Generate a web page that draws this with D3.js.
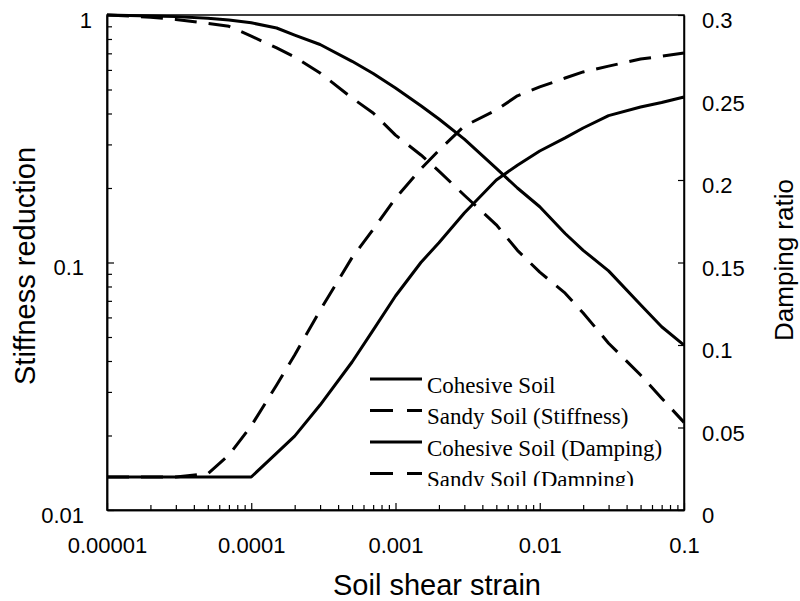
<!DOCTYPE html>
<html>
<head>
<meta charset="utf-8">
<script src="https://cdn.jsdelivr.net/npm/d3@7"></script>
<style>
  body { margin: 0; background: #fff; }
  svg { display: block; }
</style>
</head>
<body>
<div id="chart"></div>
<script>
// soil shear strain sample points
const strain = [1e-5, 2e-5, 3e-5, 5e-5, 7e-5, 1e-4, 1.5e-4, 2e-4, 3e-4, 5e-4, 7e-4,
  1e-3, 1.5e-3, 2e-3, 3e-3, 5e-3, 7e-3, 1e-2, 1.5e-2, 2e-2, 3e-2, 5e-2, 7e-2, 1e-1];

// stiffness reduction (left axis, log)
const cohesiveStiffness = [1.0, 0.99, 0.985, 0.97, 0.955, 0.93, 0.886, 0.83, 0.76, 0.65, 0.58,
  0.507, 0.43, 0.38, 0.315, 0.24, 0.2, 0.168, 0.131, 0.112, 0.0925, 0.0675, 0.055, 0.0464];
const sandyStiffness = [1.0, 0.98, 0.96, 0.924, 0.9, 0.822, 0.736, 0.677, 0.583, 0.462, 0.402,
  0.327, 0.272, 0.234, 0.187, 0.142, 0.112, 0.0914, 0.0752, 0.0625, 0.0472, 0.0351, 0.0283, 0.0226];

// damping ratio (right axis, linear)
const cohesiveDamping = [0.02, 0.02, 0.02, 0.02, 0.02, 0.02, 0.0345, 0.0448, 0.0636, 0.0897, 0.109,
  0.1297, 0.15, 0.162, 0.18, 0.2, 0.209, 0.2176, 0.2255, 0.2315, 0.239, 0.2442, 0.247, 0.2503];
const sandyDamping = [0.02, 0.02, 0.02, 0.022, 0.0333, 0.051, 0.0758, 0.094, 0.121, 0.153, 0.17,
  0.189, 0.2067, 0.218, 0.2327, 0.2424, 0.251, 0.2564, 0.2618, 0.2655, 0.269, 0.2733, 0.275, 0.277];

const xTicks = [1e-5, 1e-4, 1e-3, 1e-2, 1e-1];
const xTickLabels = ['0.00001', '0.0001', '0.001', '0.01', '0.1'];
const yLeftTicks = [0.01, 0.1, 1];
const yLeftTickLabels = ['0.01', '0.1', '1'];
const yRightTicks = [0, 0.05, 0.1, 0.15, 0.2, 0.25, 0.3];
const yRightTickLabels = ['0', '0.05', '0.1', '0.15', '0.2', '0.25', '0.3'];

const legendLabels = ['Cohesive Soil', 'Sandy Soil (Stiffness)', 'Cohesive Soil (Damping)', 'Sandy Soil (Damping)'];

const widthSvg = 800;
const heightSvg = 601;
const margin = { top: 15, right: 116, bottom: 91, left: 107 };
const widthChart = widthSvg - margin.left - margin.right;
const heightChart = heightSvg - margin.top - margin.bottom;

const sans = 'Liberation Sans, Arial, Helvetica, sans-serif';
const serif = 'Liberation Serif, Times New Roman, serif';

const svg = d3.select('#chart').append('svg')
  .attr('width', widthSvg)
  .attr('height', heightSvg);

const g = svg.append('g')
  .attr('transform', `translate(${margin.left}, ${margin.top})`);

const scaleX = d3.scaleLog().domain([1e-5, 0.1]).range([0, widthChart]);
const scaleYL = d3.scaleLog().domain([0.01, 1]).range([heightChart, 0]);
const scaleYR = d3.scaleLinear().domain([0, 0.3]).range([heightChart, 0]);

// minor ticks: 2..9 in each decade
const minorOf = (scale) => scale.ticks().filter(v => {
  const m = v / Math.pow(10, Math.floor(Math.log10(v) + 1e-9));
  return Math.abs(m - 1) > 1e-6;
});

// x axis
g.append('g')
  .attr('transform', `translate(0, ${heightChart})`)
  .call(d3.axisBottom(scaleX).tickValues(minorOf(scaleX)).tickSize(-5).tickSizeOuter(0).tickFormat(''))
  .call(a => a.selectAll('text').remove());
g.append('g')
  .attr('transform', `translate(0, ${heightChart})`)
  .call(d3.axisBottom(scaleX).tickValues(xTicks).tickSize(-7).tickSizeOuter(0).tickPadding(27)
    .tickFormat((d, i) => xTickLabels[i]));

// left axis
g.append('g')
  .call(d3.axisLeft(scaleYL).tickValues(minorOf(scaleYL)).tickSize(-5).tickSizeOuter(0).tickFormat(''))
  .call(a => a.selectAll('text').remove());
g.append('g')
  .call(d3.axisLeft(scaleYL).tickValues(yLeftTicks).tickSize(-7).tickSizeOuter(0).tickPadding(23)
    .tickFormat((d, i) => yLeftTickLabels[i]))
  .call(a => a.selectAll('text').attr('dy', '0.56em'))
  .call(a => a.selectAll('text').filter(d => d === 1).attr('dx', 8));

// right axis
g.append('g')
  .attr('transform', `translate(${widthChart}, 0)`)
  .call(d3.axisRight(scaleYR).tickValues(yRightTicks).tickSize(-6).tickSizeOuter(0).tickPadding(18)
    .tickFormat((d, i) => yRightTickLabels[i]))
  .call(a => a.selectAll('text').attr('dy', '0.58em'));

g.selectAll('.domain').attr('stroke', '#000').attr('stroke-width', 1.5);
g.selectAll('.tick line').attr('stroke', '#000').attr('stroke-width', 1.2);
g.selectAll('.tick text')
  .attr('fill', '#000')
  .style('font-family', sans)
  .style('font-size', '22px');

// frame
g.append('rect')
  .attr('width', widthChart)
  .attr('height', heightChart)
  .attr('fill', 'none')
  .attr('stroke', '#000')
  .attr('stroke-width', 1.5);

// curves
const stiffLine = d3.line()
  .x((d, i) => scaleX(strain[i]))
  .y(d => scaleYL(d));
const dampLine = d3.line()
  .x((d, i) => scaleX(strain[i]))
  .y(d => scaleYR(d));

const series = [
  { values: cohesiveStiffness, line: stiffLine, dash: null },
  { values: sandyStiffness, line: stiffLine, dash: '22,12' },
  { values: cohesiveDamping, line: dampLine, dash: null },
  { values: sandyDamping, line: dampLine, dash: '22,12' }
];

g.selectAll('.curve')
  .data(series)
  .enter()
  .append('path')
  .attr('class', 'curve')
  .attr('d', d => d.line(d.values))
  .attr('fill', 'none')
  .attr('stroke', '#000')
  .attr('stroke-width', 3)
  .attr('stroke-linejoin', 'round')
  .attr('stroke-dasharray', d => d.dash);

// legend (bottom row is clipped in the original)
svg.append('clipPath')
  .attr('id', 'legend-clip')
  .append('rect')
  .attr('x', 360).attr('y', 360).attr('width', 320).attr('height', 126);

const legend = svg.append('g').attr('clip-path', 'url(#legend-clip)');
const legendRows = legend.selectAll('g')
  .data(legendLabels)
  .enter()
  .append('g')
  .attr('transform', (d, i) => `translate(370, ${379 + i * 31.5})`);

legendRows.append('line')
  .attr('x1', 0).attr('x2', 52)
  .attr('stroke', '#000')
  .attr('stroke-width', 3)
  .attr('stroke-dasharray', (d, i) => series[i].dash ? '23,14' : null);

legendRows.append('text')
  .attr('x', 57)
  .attr('y', 13.5)
  .style('font-family', serif)
  .style('font-size', '23px')
  .text(d => d);

// axis titles
svg.append('text')
  .attr('x', 437)
  .attr('y', 595)
  .attr('text-anchor', 'middle')
  .style('font-family', sans)
  .style('font-size', '29px')
  .text('Soil shear strain');

svg.append('text')
  .attr('transform', 'translate(35, 266) rotate(-90)')
  .attr('text-anchor', 'middle')
  .style('font-family', sans)
  .style('font-size', '29px')
  .text('Stiffness reduction');

svg.append('text')
  .attr('transform', 'translate(793, 260) rotate(-90)')
  .attr('text-anchor', 'middle')
  .style('font-family', sans)
  .style('font-size', '26px')
  .text('Damping ratio');
</script>
</body>
</html>
